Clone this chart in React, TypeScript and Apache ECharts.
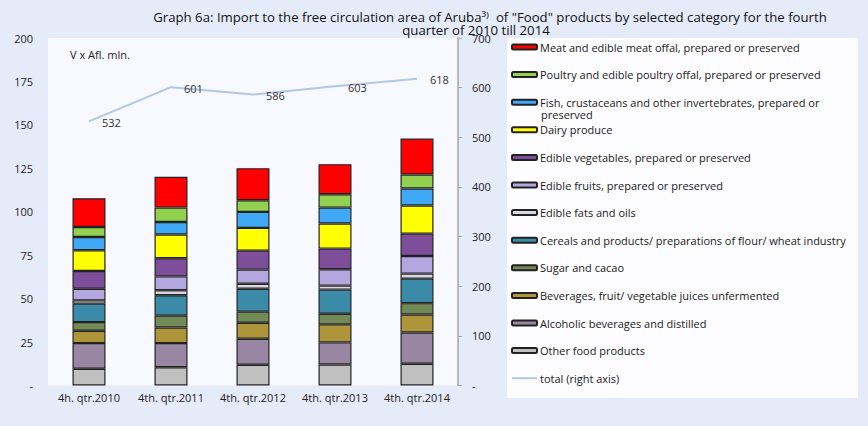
import React, { useEffect, useRef } from "react";
import * as echarts from "echarts";

const categories = ["4h. qtr.2010", "4th. qtr.2011", "4th. qtr.2012", "4th. qtr.2013", "4th. qtr.2014"];
const other = [9.6, 10.5, 11.9, 12.1, 12.5];
const alcoholic = [14.8, 13.9, 15.0, 12.7, 18.0];
const beverages = [7.1, 9.0, 9.2, 10.4, 10.4];
const sugar = [5.0, 6.8, 6.4, 6.1, 6.5];
const cereals = [10.6, 11.7, 13.2, 13.9, 14.1];
const fats = [1.9, 2.9, 2.9, 2.3, 2.9];
const fruits = [6.7, 8.0, 8.1, 9.4, 10.1];
const vegetables = [10.2, 10.4, 10.9, 11.9, 12.9];
const dairy = [11.9, 13.7, 13.1, 14.4, 16.2];
const fish = [7.7, 7.2, 9.2, 9.2, 9.8];
const poultry = [5.7, 8.3, 6.7, 7.7, 8.0];
const meat = [16.6, 17.7, 18.5, 17.3, 20.7];
const total = [532, 601, 586, 603, 618];

const leftTicks = { min: 0, max: 200, interval: 25 };
const rightTicks = { min: 0, max: 700, interval: 100 };

const FISH = "Fish, crustaceans and other invertebrates, prepared or preserved";

const barSeriesDefs = [
  { name: "Other food products", data: other, color: "#c0c0c0" },
  { name: "Alcoholic beverages and distilled", data: alcoholic, color: "#9886a3" },
  { name: "Beverages, fruit/ vegetable juices unfermented", data: beverages, color: "#ae953a" },
  { name: "Sugar and cacao", data: sugar, color: "#728a56" },
  { name: "Cereals and products/ preparations of flour/ wheat industry", data: cereals, color: "#3b8ba8" },
  { name: "Edible fats and oils", data: fats, color: "#dcd9e7" },
  { name: "Edible fruits, prepared or preserved", data: fruits, color: "#b2a7df" },
  { name: "Edible vegetables, prepared or preserved", data: vegetables, color: "#7e4e9a" },
  { name: "Dairy produce", data: dairy, color: "#ffff00" },
  { name: FISH, data: fish, color: "#3fa9f7" },
  { name: "Poultry and edible poultry offal, prepared or preserved", data: poultry, color: "#92d050" },
  { name: "Meat and edible meat offal, prepared or preserved", data: meat, color: "#ff0000" },
];

const TOTAL = "total (right axis)";
const FONT = "Open Sans";

export default function App() {
  const ref = useRef<HTMLDivElement>(null);
  useEffect(() => {
    document.body.style.margin = "0";
    const chart = echarts.init(ref.current!, null, { renderer: "svg" });
    const series: any[] = barSeriesDefs.map((d) => ({
      name: d.name,
      type: "bar",
      stack: "food",
      barWidth: 33,
      data: d.data,
      itemStyle: { color: d.color, borderColor: "#222", borderWidth: 1.2 },
    }));
    series.push({
      name: TOTAL,
      type: "line",
      yAxisIndex: 1,
      data: total,
      symbol: "circle",
      symbolSize: 0.01,
      lineStyle: { color: "#b4c5e6", width: 2 },
      itemStyle: { color: "#b4c5e6" },
      label: {
        show: true,
        position: "right",
        distance: 13,
        offset: [0, 1],
        color: "#333",
        fontFamily: FONT,
        fontSize: 11,
      },
    });
    const legendOrder: any[] = [...barSeriesDefs].reverse().map((d) => d.name);
    legendOrder.push({ name: TOTAL, itemStyle: { opacity: 0 } });
    chart.setOption({
      animation: false,
      backgroundColor: "#e6ebfa",
      textStyle: { fontFamily: FONT },
      grid: {
        left: 48,
        right: 410,
        top: 38,
        bottom: 40.5,
        show: true,
        backgroundColor: "#f8f9fe",
        borderWidth: 0,
      },
      graphic: [
        {
          type: "rect",
          z: 0,
          shape: { x: 507, y: 38, width: 351, height: 360 },
          style: { fill: "#fdfdff" },
        },
        {
          type: "text",
          x: 490,
          y: 16.5,
          style: {
            text: 'Graph 6a: Import to the free circulation area of Aruba³⁾  of "Food" products by selected category for the fourth',
            textAlign: "center",
            textVerticalAlign: "middle",
            font: `13.2px "${FONT}"`,
            fill: "#111",
          },
        },
        {
          type: "text",
          x: 476,
          y: 29.5,
          style: {
            text: "quarter of 2010 till 2014",
            textAlign: "center",
            textVerticalAlign: "middle",
            font: `13.2px "${FONT}"`,
            fill: "#111",
          },
        },
        {
          type: "text",
          x: 70,
          y: 54,
          style: {
            text: "V x Afl. mln.",
            textVerticalAlign: "middle",
            font: `11px "${FONT}"`,
            fill: "#222",
          },
        },
        {
          type: "text",
          x: 541,
          y: 114.5,
          z: 10,
          style: {
            text: "preserved",
            textVerticalAlign: "middle",
            font: `11px "${FONT}"`,
            fill: "#1a1a1a",
          },
        },
      ],
      legend: {
        orient: "vertical",
        left: 511,
        top: 40,
        padding: 0,
        itemGap: 13.6,
        itemWidth: 25,
        itemHeight: 5,
        data: legendOrder,
        formatter: (n: string) => (n === FISH ? "Fish, crustaceans and other invertebrates, prepared or" : n),
        textStyle: { fontFamily: FONT, fontSize: 11, color: "#1a1a1a", lineHeight: 14, padding: [0, 0, 0, -2] },
      },
      xAxis: {
        type: "category",
        data: categories,
        axisLine: { show: false },
        axisTick: { show: false },
        axisLabel: { color: "#222", fontSize: 11, fontFamily: FONT, margin: 6, interval: 0 },
      },
      yAxis: [
        {
          type: "value",
          ...leftTicks,
          axisLine: { show: false },
          axisTick: { show: false },
          splitLine: { show: false },
          axisLabel: {
            color: "#222",
            fontSize: 11,
            fontFamily: FONT,
            margin: 15,
            formatter: (v: number) => (v === 0 ? "-" : String(v)),
          },
        },
        {
          type: "value",
          ...rightTicks,
          position: "right",
          axisLine: { show: true, lineStyle: { color: "#a6a6a6", width: 1.5 } },
          axisTick: { show: true, length: 4, lineStyle: { color: "#a6a6a6" } },
          splitLine: { show: false },
          axisLabel: {
            color: "#222",
            fontSize: 11,
            fontFamily: FONT,
            margin: 14,
            formatter: (v: number) => (v === 0 ? "-" : String(v)),
          },
        },
      ],
      series,
    });
    return () => chart.dispose();
  }, []);
  return <div ref={ref} style={{ position: "fixed", left: 0, top: 0, width: 868, height: 426 }} />;
}
